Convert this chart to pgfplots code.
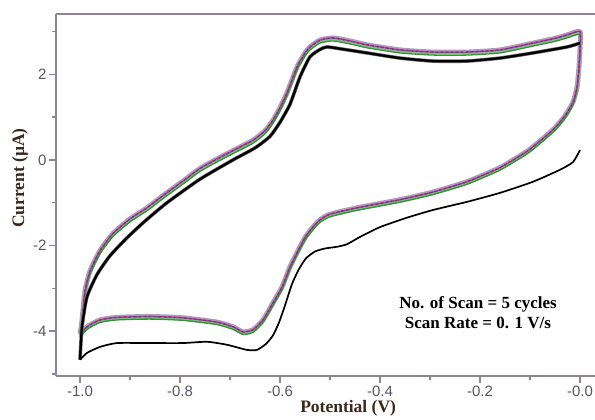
\documentclass[border=0pt]{standalone}
\usepackage{fontspec}
\setmainfont{Liberation Serif}
\newfontfamily\arial{Liberation Sans}
\usepackage{pgfplots}
\usepackage{pgfplotstable}
\pgfplotsset{compat=1.18}

\definecolor{axisgray}{RGB}{140,132,150}
\definecolor{ticktext}{RGB}{88,84,100}
\definecolor{labeltext}{RGB}{58,40,28}
\definecolor{halo}{RGB}{168,160,178}
\definecolor{cvred}{RGB}{228,30,40}
\definecolor{cvblue}{RGB}{60,60,225}
\definecolor{cvgreen}{RGB}{25,165,25}
\definecolor{cvmag}{RGB}{190,60,190}

% cycles 2-5: x, mean of red/blue/magenta, green
\pgfplotstableread{
x y g
-1.000 -4.04 -4.12
-0.997 -3.86 -3.93
-0.990 -3.06 -3.13
-0.980 -2.60 -2.67
-0.960 -2.12 -2.19
-0.934 -1.72 -1.79
-0.900 -1.38 -1.45
-0.866 -1.12 -1.19
-0.830 -0.80 -0.87
-0.790 -0.46 -0.53
-0.760 -0.20 -0.27
-0.720 0.06 -0.01
-0.690 0.24 0.17
-0.654 0.46 0.39
-0.630 0.68 0.61
-0.614 0.93 0.86
-0.600 1.22 1.15
-0.586 1.57 1.50
-0.566 2.17 2.10
-0.550 2.50 2.43
-0.540 2.64 2.57
-0.520 2.80 2.73
-0.494 2.85 2.78
-0.460 2.78 2.71
-0.426 2.69 2.62
-0.360 2.57 2.50
-0.294 2.52 2.45
-0.226 2.52 2.45
-0.160 2.57 2.50
-0.094 2.73 2.66
-0.050 2.84 2.77
-0.026 2.92 2.85
0.000 3.00 2.93
0.000 2.60 2.55
-0.002 2.17 2.12
-0.006 1.70 1.64
-0.014 1.35 1.29
-0.030 1.03 0.97
-0.050 0.75 0.69
-0.074 0.50 0.44
-0.106 0.20 0.14
-0.160 -0.18 -0.24
-0.226 -0.51 -0.57
-0.294 -0.75 -0.81
-0.360 -0.93 -0.99
-0.446 -1.12 -1.18
-0.500 -1.27 -1.33
-0.520 -1.40 -1.46
-0.534 -1.57 -1.63
-0.548 -1.78 -1.84
-0.560 -2.03 -2.09
-0.580 -2.50 -2.56
-0.596 -2.97 -3.03
-0.614 -3.34 -3.40
-0.634 -3.74 -3.80
-0.654 -3.97 -4.03
-0.674 -4.02 -4.08
-0.694 -3.90 -3.96
-0.726 -3.79 -3.85
-0.794 -3.69 -3.75
-0.860 -3.66 -3.72
-0.926 -3.68 -3.74
-0.960 -3.74 -3.80
-0.986 -3.90 -3.96
-1.000 -4.09 -4.15
}\cyclesrest

% cycle 1, reverse sweep 0 -> -1.0
\pgfplotstableread{
x y
0.000 0.23
-0.014 -0.05
-0.040 -0.23
-0.094 -0.51
-0.160 -0.77
-0.226 -0.98
-0.294 -1.17
-0.346 -1.35
-0.400 -1.57
-0.440 -1.80
-0.466 -1.97
-0.486 -2.03
-0.510 -2.07
-0.530 -2.14
-0.548 -2.30
-0.562 -2.55
-0.576 -2.90
-0.590 -3.40
-0.602 -3.80
-0.614 -4.10
-0.628 -4.30
-0.646 -4.44
-0.666 -4.44
-0.706 -4.32
-0.746 -4.25
-0.794 -4.28
-0.860 -4.28
-0.926 -4.28
-0.960 -4.37
-0.986 -4.51
-1.000 -4.67
}\cyclelow

% cycle 1, forward sweep -1.0 -> 0
\pgfplotstableread{
x y
-1.000 -4.67
-0.996 -3.90
-0.986 -3.20
-0.966 -2.68
-0.940 -2.24
-0.906 -1.82
-0.870 -1.43
-0.826 -1.00
-0.760 -0.45
-0.694 0.00
-0.650 0.28
-0.620 0.55
-0.600 0.88
-0.580 1.30
-0.560 1.94
-0.540 2.41
-0.520 2.58
-0.506 2.64
-0.470 2.58
-0.426 2.50
-0.360 2.38
-0.294 2.31
-0.226 2.31
-0.160 2.38
-0.094 2.50
-0.026 2.64
0.000 2.73
}\cycleup

\begin{document}
\begin{tikzpicture}
\begin{axis}[
    scale only axis,
    width=539pt, height=362pt,
    xmin=-1.048, xmax=0.03,
    ymin=-5.05, ymax=3.41,
    axis x line*=box, axis y line*=left,
    xtick pos=left, ytick pos=left,
    tick align=outside,
    axis line style={axisgray, line width=1.4pt},
    every tick/.style={axisgray, line width=1.4pt},
    major tick length=7pt, minor tick length=4pt,
    xtick={-1,-0.8,-0.6,-0.4,-0.2,0},
    xticklabels={-1.0,-0.8,-0.6,-0.4,-0.2,-0.0},
    minor xtick={-0.9,-0.7,-0.5,-0.3,-0.1},
    ytick={-4,-2,0,2},
    yticklabels={-4,-2,0,2},
    minor ytick={-5,-3,-1,1,3},
    ticklabel style={font=\arial\fontsize{15}{15}\selectfont, text=ticktext},
    xticklabel style={yshift=1pt},
    yticklabel style={xshift=1pt},
    xlabel={Potential (V)},
    ylabel={Current (µA)},
    label style={font=\bfseries\fontsize{17.5}{17.5}\selectfont, text=labeltext},
    xlabel style={at={(rel axis cs:0.542,0)}, anchor=base, yshift=-36pt},
    ylabel style={at={(rel axis cs:-0.0668,0.547)}, anchor=center},
    clip=false,
    every axis plot/.append style={smooth, tension=0.35, line join=round},
]
\coordinate (BL) at (rel axis cs:0,0);
\coordinate (TR) at (rel axis cs:1,1);
\addplot[halo, line width=5pt] table[x=x, y=y] {\cyclesrest};
\addplot[cvgreen, line width=1.3pt] table[x=x, y=g] {\cyclesrest};
\addplot[cvmag, line width=1.2pt] table[x=x, y=y] {\cyclesrest};
\addplot[cvred, line width=1.2pt, dash pattern=on 3pt off 2pt] table[x=x, y=y] {\cyclesrest};
\addplot[cvblue, line width=1.2pt, dash pattern=on 2pt off 3pt, dash phase=3pt] table[x=x, y=y] {\cyclesrest};
\addplot[black!55, line width=3.6pt] table[x=x, y=y] {\cycleup};
\addplot[black, line width=2.4pt] table[x=x, y=y] {\cycleup};
\addplot[black, line width=1.7pt] table[x=x, y=y] {\cyclelow};
\node[font=\bfseries\fontsize{17}{20}\selectfont, align=center, anchor=center]
    at (axis cs:-0.204,-3.57) {No. of Scan = 5 cycles\\ Scan Rate = 0. 1 V/s};
\end{axis}
\pgfresetboundingbox
\path ([shift={(-56pt,-43pt)}]BL) rectangle ([shift={(0pt,14pt)}]TR);
\end{tikzpicture}
\end{document}
